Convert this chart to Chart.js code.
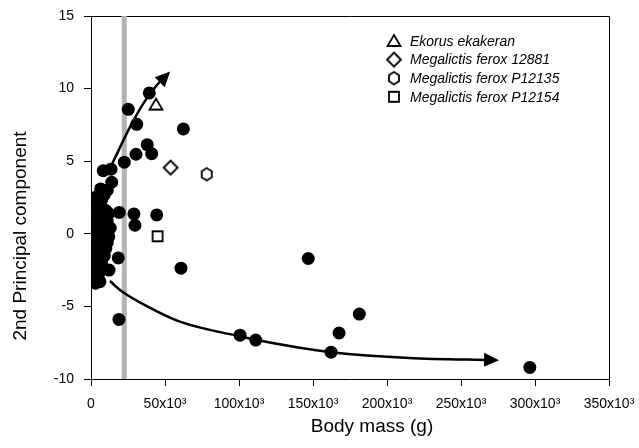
<!DOCTYPE html>
<html>
<head>
<meta charset="utf-8">
<script src="https://cdn.jsdelivr.net/npm/chart.js@4.4.1/dist/chart.umd.min.js"></script>
<style>
html, body { margin: 0; padding: 0; background: #fff; }
#grafico { display: block; }
</style>
</head>
<body>
<canvas id="grafico" width="639" height="448"></canvas>
<script>
// Datos: masa corporal (g) vs 2do componente principal
const masaCorporal = [
    39400, 25200, 30900, 62400, 38000, 41000, 30400, 22500, 13500, 8300,
    14000, 6500, 4300, 19100, 29000, 44400, 29700, 18400, 60800, 12200,
    18900, 100700, 111300, 146800, 181300, 167600, 162200, 296500, 2700,
    2000, 4000, 7000, 9000, 11000, 3000, 7000, 10000, 12000, 1000,
    2000, 5000, 8000, 11000, 1500, 4000, 7000, 10000, 13000, 12000,
    2000, 5000, 8000, 11000, 10000, 3000, 6000, 9000, 1000, 4000,
    7000, 2000, 5000, 8000, 3000, 1500, 6000
];
const componente2 = [
    9.7, 8.57, 7.54, 7.22, 6.14, 5.52, 5.48, 4.93, 4.45, 4.35,
    3.55, 3.09, 2.59, 1.47, 1.37, 1.30, 0.59, -1.66, -2.37, -2.50,
    -5.90, -6.98, -7.32, -1.70, -5.53, -6.83, -8.15, -9.20, -3.31,
    2.1, 1.9, 2.3, 2.7, 3.0, 1.2, 1.5, 1.6, 1.4, 0.9,
    0.5, 0.8, 0.6, 0.9, -0.2, 0.1, -0.1, 0.2, 0.4, -0.2,
    -0.9, -0.7, -0.5, -0.6, -1.0, -1.4, -1.2, -1.5, -1.8, -2.1,
    -1.9, -2.6, -2.8, -2.3, -3.4, -3.0, -3.3
];

// Fósiles (un punto cada uno)
const fosilesNombres = ['Ekorus ekakeran', 'Megalictis ferox 12881', 'Megalictis ferox P12135', 'Megalictis ferox P12154'];
const fosilesMasa = [43900, 53800, 78200, 45000];
const fosilesPC2 = [8.9, 4.56, 4.1, -0.17];
const fosilesMarcador = ['triangulo', 'diamante', 'hexagono', 'cuadrado'];

// Banda gris vertical
const bandaMasa = 22500;

// Flechas de tendencia
const flechaArribaMasa = [14400, 26400, 35300, 44400, 51600];
const flechaArribaPC2 = [4.84, 7.36, 8.97, 10.23, 10.98];
const flechaAbajoMasa = [12800, 20000, 40000, 60000, 100000, 141000, 162000, 215000, 273000];
const flechaAbajoPC2 = [-3.25, -3.9, -5.1, -6.05, -7.05, -7.85, -8.15, -8.55, -8.7];

// Ejes
const etiquetasX = ['0', '50x10³', '100x10³', '150x10³', '200x10³', '250x10³', '300x10³', '350x10³'];
const tituloX = 'Body mass (g)';
const tituloY = '2nd Principal component';

const FUENTE = "'Liberation Sans', Arial, sans-serif";

function aPuntos(xs, ys) {
    return xs.map((x, i) => ({ x: x, y: ys[i] }));
}

// Marcadores abiertos dibujados en un canvas pequeño
function crearMarcador(tipo) {
    const c = document.createElement('canvas');
    c.width = 18;
    c.height = 18;
    const g = c.getContext('2d');
    g.lineWidth = 1.8;
    g.strokeStyle = '#000';
    g.fillStyle = '#fff';
    g.beginPath();
    if (tipo === 'triangulo') {
        g.moveTo(9, 3);
        g.lineTo(15.5, 14);
        g.lineTo(2.5, 14);
        g.closePath();
    } else if (tipo === 'diamante') {
        g.moveTo(9, 2);
        g.lineTo(16, 9);
        g.lineTo(9, 16);
        g.lineTo(2, 9);
        g.closePath();
    } else if (tipo === 'hexagono') {
        for (let i = 0; i < 6; i++) {
            const a = Math.PI / 2 + i * Math.PI / 3;
            const px = 9 + 5.8 * Math.cos(a);
            const py = 9 + 6.2 * Math.sin(a);
            if (i === 0) g.moveTo(px, py); else g.lineTo(px, py);
        }
        g.closePath();
    } else {
        g.rect(4, 4, 10, 10);
    }
    g.fill();
    g.stroke();
    return c;
}

const imagenesMarcador = fosilesMarcador.map(crearMarcador);

const datasets = [];

// banda gris (al fondo)
datasets.push({
    type: 'line',
    data: [{ x: bandaMasa, y: -10 }, { x: bandaMasa, y: 15 }],
    borderColor: '#b3b3b3',
    borderWidth: 5,
    pointRadius: 0,
    order: 10
});

// puntos negros
datasets.push({
    type: 'scatter',
    data: aPuntos(masaCorporal, componente2),
    backgroundColor: '#000',
    borderColor: '#000',
    pointRadius: 6.5,
    borderWidth: 0,
    order: 5
});

// flechas
[[flechaArribaMasa, flechaArribaPC2], [flechaAbajoMasa, flechaAbajoPC2]].forEach(par => {
    datasets.push({
        type: 'line',
        data: aPuntos(par[0], par[1]),
        borderColor: '#000',
        borderWidth: 2.5,
        pointRadius: 0,
        cubicInterpolationMode: 'monotone',
        flecha: true,
        order: 3
    });
});

// fósiles
fosilesNombres.forEach((nombre, i) => {
    datasets.push({
        type: 'scatter',
        label: nombre,
        data: [{ x: fosilesMasa[i], y: fosilesPC2[i] }],
        pointStyle: imagenesMarcador[i],
        order: 1
    });
});

// Marco superior y derecho
const pluginMarco = {
    id: 'marco',
    beforeDatasetsDraw(chart) {
        const ctx = chart.ctx;
        const a = chart.chartArea;
        ctx.save();
        ctx.strokeStyle = '#000';
        ctx.lineWidth = 1;
        ctx.beginPath();
        ctx.moveTo(a.left, a.top + 0.5);
        ctx.lineTo(a.right + 0.5, a.top + 0.5);
        ctx.lineTo(a.right + 0.5, a.bottom);
        ctx.stroke();
        ctx.restore();
    }
};

// Puntas de flecha al final de las líneas marcadas
const pluginFlechas = {
    id: 'flechas',
    afterDatasetsDraw(chart) {
        const ctx = chart.ctx;
        const xs = chart.scales.x;
        const ys = chart.scales.y;
        chart.data.datasets.forEach(ds => {
            if (!ds.flecha) return;
            const n = ds.data.length;
            const p1 = ds.data[n - 2];
            const p2 = ds.data[n - 1];
            const x1 = xs.getPixelForValue(p1.x), y1 = ys.getPixelForValue(p1.y);
            const x2 = xs.getPixelForValue(p2.x), y2 = ys.getPixelForValue(p2.y);
            const ang = Math.atan2(y2 - y1, x2 - x1);
            const largo = 15, ancho = 7;
            ctx.save();
            ctx.translate(x2, y2);
            ctx.rotate(ang);
            ctx.fillStyle = '#000';
            ctx.beginPath();
            ctx.moveTo(4, 0);
            ctx.lineTo(4 - largo, -ancho);
            ctx.lineTo(4 - largo, ancho);
            ctx.closePath();
            ctx.fill();
            ctx.restore();
        });
    }
};

// Leyenda y títulos de ejes
const pluginTextos = {
    id: 'textos',
    afterDraw(chart) {
        const ctx = chart.ctx;
        const a = chart.chartArea;
        ctx.save();
        ctx.fillStyle = '#000';
        ctx.textBaseline = 'middle';
        ctx.textAlign = 'left';
        ctx.font = 'italic 14px ' + FUENTE;
        const lx = a.right - 215;
        fosilesNombres.forEach((nombre, i) => {
            const ly = a.top + 25 + i * 18.6;
            ctx.drawImage(imagenesMarcador[i], lx - 9, ly - 9);
            ctx.fillText(nombre, lx + 16, ly + 1);
        });

        ctx.font = '19px ' + FUENTE;
        ctx.textAlign = 'center';
        ctx.fillText(tituloX, (a.left + a.right) / 2 + 22, 427);
        ctx.translate(21, 236);
        ctx.rotate(-Math.PI / 2);
        ctx.fillText(tituloY, 0, 0);
        ctx.restore();
    }
};

new Chart(document.getElementById('grafico'), {
    data: { datasets: datasets },
    options: {
        responsive: false,
        animation: false,
        layout: { padding: { top: 16, right: 30, left: 0, bottom: 0 } },
        plugins: {
            legend: { display: false },
            tooltip: { enabled: false }
        },
        scales: {
            x: {
                type: 'linear',
                min: 0,
                max: 350000,
                afterFit(scale) {
                    scale.height = 69;
                    scale.paddingLeft = 0;
                    scale.paddingRight = 0;
                },
                ticks: {
                    stepSize: 50000,
                    maxRotation: 0,
                    padding: 10,
                    color: '#000',
                    font: { family: FUENTE, size: 14 },
                    callback: (v, i) => etiquetasX[i]
                },
                grid: { drawOnChartArea: false, tickLength: 7, color: '#000' },
                border: { color: '#000', width: 1 }
            },
            y: {
                type: 'linear',
                min: -10,
                max: 15,
                afterFit(scale) {
                    scale.width = 91;
                    scale.paddingTop = 0;
                    scale.paddingBottom = 0;
                },
                ticks: {
                    stepSize: 5,
                    padding: 10,
                    color: '#000',
                    font: { family: FUENTE, size: 14 }
                },
                grid: { drawOnChartArea: false, tickLength: 7, color: '#000' },
                border: { color: '#000', width: 1 }
            }
        }
    },
    plugins: [pluginMarco, pluginFlechas, pluginTextos]
});
</script>
</body>
</html>
